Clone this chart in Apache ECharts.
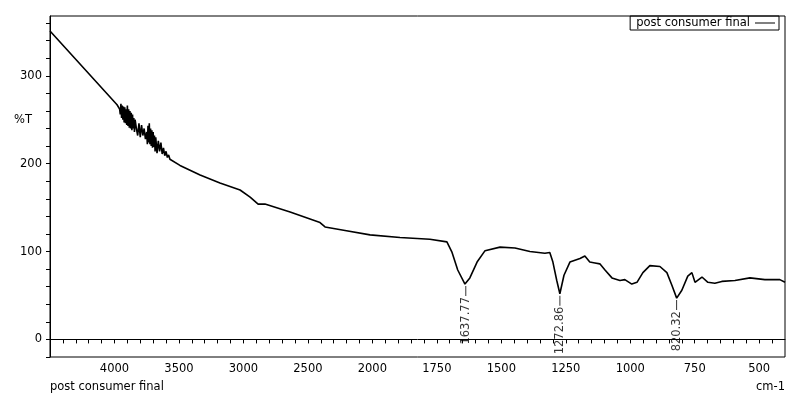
<!DOCTYPE html>
<html><head><meta charset="utf-8">
<script src="https://cdn.jsdelivr.net/npm/echarts@6/dist/echarts.min.js"></script>
<style>html,body{margin:0;padding:0;background:#fff}#c{width:801px;height:401px}</style>
</head><body><div id="c"></div>
<script>
const seriesName = 'post consumer final';
const wavenumbers = [4500,3980,3960,3955,3950,3945,3940,3935,3930,3925,3920,3915,3910,3905,3900,3895,3890,3885,3880,3875,3870,3865,3860,3855,3850,3845,3840,3830,3820,3810,3800,3790,3780,3770,3760,3750,3745,3740,3735,3730,3725,3720,3715,3710,3705,3700,3695,3690,3685,3680,3670,3660,3650,3640,3630,3620,3610,3600,3590,3580,3570,3560,3492,3336,3182,3026,2948,2886,2833,2638,2406,2367,2212,2018,1893,1777,1711,1691,1669,1641,1622,1594,1563,1505,1447,1389,1331,1312,1300,1285,1273,1257,1234,1195,1176,1157,1137,1118,1098,1071,1040,1021,994,974,951,924,885,858,839,820,800,777,761,749,722,699,672,645,594,536,478,420,400];
const transmittance = [351,267,262,256,268,252,266,250,265,247,264,246,262,244,266,243,262,241,260,240,258,238,256,240,252,236,250,240,232,246,230,244,232,240,228,236,222,243,224,246,222,240,220,238,218,236,219,232,214,230,212,226,214,224,211,218,209,214,207,210,205,206,198,187,178,170,162,154,154,145,133,128,124,119,116,114,111,99,79,63,70,88,101,105,104,100,98,99,88,67,52,73,88,92,95,88,87,86,79,70,67,68,63,65,76,84,83,76,62,47,56,72,76,65,71,65,64,66,67,70,68,68,65];
const peakWavenumbers = [1637.77,1272.86,820.32];
const peakValues = [63,52,47];
const xTickLabels = ['4000','3500','3000','2500','2000','1750','1500','1250','1000','750','500'];
const yTickLabels = ['0','100','200','300'];

// split scale: above 2000 cm-1 compressed by factor 2
const toP = w => w <= 2000 ? w : 2000 + (w - 2000) / 2;
const fromP = p => p <= 2000 ? p : 2000 + (p - 2000) * 2;

const lineData = wavenumbers.map((w,i)=>[toP(w), transmittance[i]]);
const peakData = peakWavenumbers.map((w,i)=>({value:[toP(w), peakValues[i]], name:w.toFixed(2)}));
const F = 'DejaVu Sans, Arial, sans-serif';

const chart = echarts.init(document.getElementById('c'));
chart.setOption({
  animation:false,
  textStyle:{fontFamily:F},
  grid:{left:50,right:16,top:16,bottom:44,show:true,borderColor:'#000',borderWidth:1},
  legend:{right:22,top:16,data:[seriesName],icon:'path://M0,0 L20,0 L20,1 L0,1 Z',itemWidth:20,itemHeight:1,align:'right',
    borderColor:'#000',borderWidth:1,padding:[1,4,1,6],itemGap:0,textStyle:{color:'#000',fontSize:11.5,fontFamily:F}},
  xAxis:{type:'value',inverse:true,min:400,max:3250,interval:50,
    axisLine:{lineStyle:{color:'#000'}},axisTick:{show:true,length:4,lineStyle:{color:'#000'}},
    splitLine:{show:false},
    axisLabel:{color:'#000',fontSize:11.5,fontFamily:F,margin:6,showMinLabel:false,showMaxLabel:false,
      formatter:v=>{ if(v%250!==0||v>3000||v<500) return ''; const s=String(fromP(v)); return xTickLabels.includes(s)?s:''; }}},
  yAxis:{type:'value',min:-20,max:368,interval:20,
    axisLine:{show:true,lineStyle:{color:'#000'}},axisTick:{show:true,length:4,lineStyle:{color:'#000'}},
    splitLine:{show:false},
    axisLabel:{color:'#000',fontSize:11.5,fontFamily:F,margin:8,showMaxLabel:false,
      formatter:v=>{ const s=String(v); return yTickLabels.includes(s)?s:''; }}},
  graphic:[
    {type:'text',left:14,top:114,style:{text:'%T',fill:'#000',font:'11.5px '+F}},
    {type:'text',left:50,top:381,style:{text:seriesName,fill:'#000',font:'11.5px '+F}},
    {type:'text',right:16,top:381,style:{text:'cm-1',fill:'#000',font:'11.5px '+F}}
  ],
  series:[
    {name:seriesName,type:'line',data:lineData,showSymbol:false,symbol:'none',smooth:false,
      lineStyle:{color:'#000',width:1.6},color:'#000'},
    {name:'peaks',type:'scatter',data:peakData,symbol:'path://M0,0 L1,0 L1,10 L0,10 Z',symbolSize:[1,10],symbolOffset:[0,7],
      itemStyle:{color:'#000'},
      label:{show:true,rotate:90,position:'bottom',align:'right',verticalAlign:'middle',distance:1,color:'#000',fontSize:11.5,fontFamily:F,
        formatter:p=>p.name}}
  ]
});
</script></body></html>
